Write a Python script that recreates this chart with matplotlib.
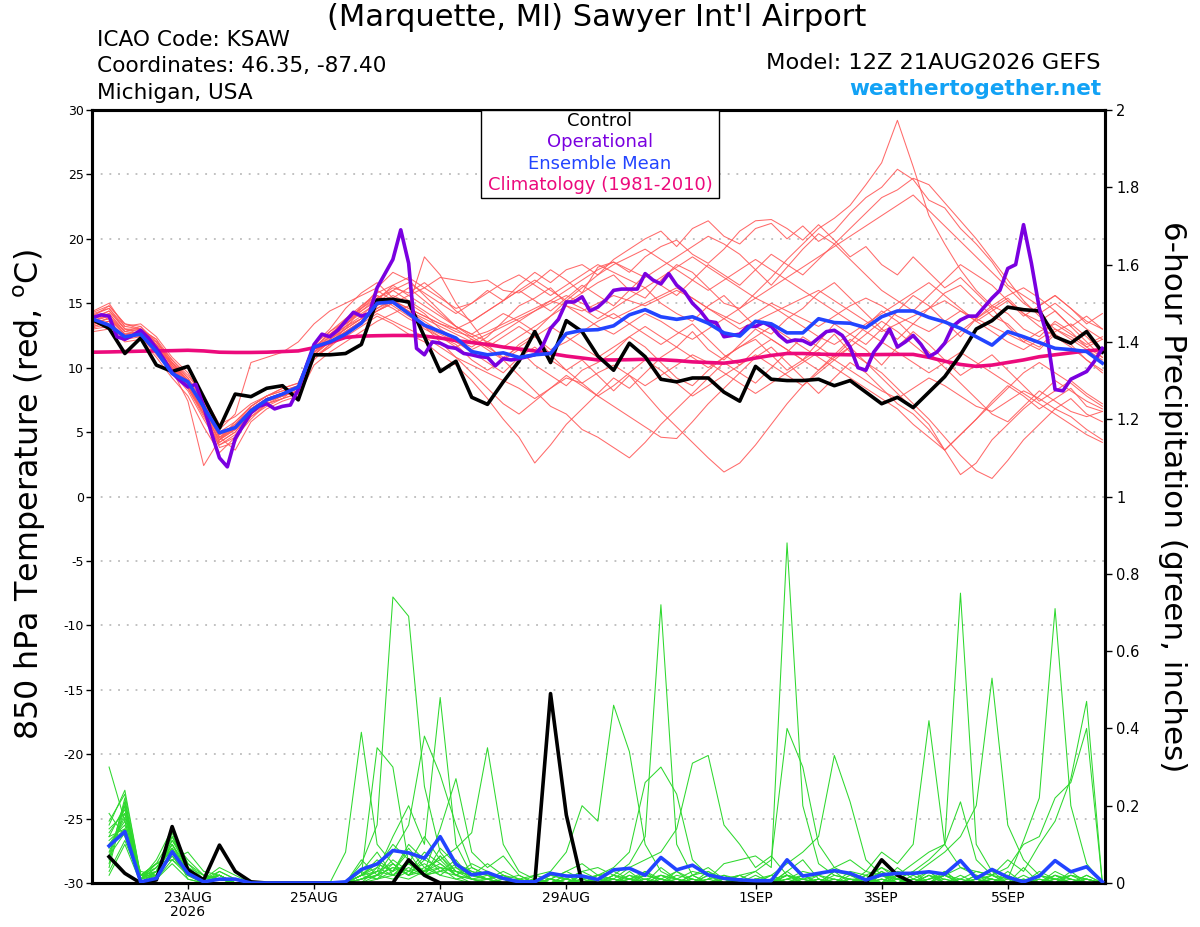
import numpy as np
import matplotlib
matplotlib.use("Agg")
import matplotlib.pyplot as plt
from matplotlib.patches import Rectangle
from datetime import datetime

plt.rcParams['font.family'] = ['DejaVu Sans']

# ---------------- data ----------------
run_start = datetime(2026, 8, 21, 12)
step_hours = 6          # ensemble / control / climatology spacing
op_step_hours = 3       # operational spacing

tick_dates = [datetime(2026, 8, 23), datetime(2026, 8, 25), datetime(2026, 8, 27),
              datetime(2026, 8, 29), datetime(2026, 9, 1), datetime(2026, 9, 3),
              datetime(2026, 9, 5)]
tick_labels = ['23AUG\n2026', '25AUG', '27AUG', '29AUG', '1SEP', '3SEP', '5SEP']

temp_ticks = [-30, -25, -20, -15, -10, -5, 0, 5, 10, 15, 20, 25, 30]
precip_ticks = [0, 0.2, 0.4, 0.6, 0.8, 1.0, 1.2, 1.4, 1.6, 1.8, 2.0]
precip_tick_labels = ['0', '0.2', '0.4', '0.6', '0.8', '1', '1.2', '1.4', '1.6', '1.8', '2']

control_temp = [13.7, 13.05, 11.1, 12.3, 10.2, 9.7, 10.1, 7.7, 5.3, 7.95, 7.75, 8.4, 8.6, 7.5, 11.0, 11.0, 11.1,
                11.8, 15.25, 15.3, 15.1, 12.4, 9.7, 10.5, 7.7, 7.15, 8.9, 10.5, 12.8, 10.4, 13.65, 12.8, 10.9,
                9.8, 11.9, 10.85, 9.1, 8.9, 9.2, 9.2, 8.1, 7.4, 10.1, 9.1, 9.0, 9.0, 9.1, 8.6, 9.0,
                8.1, 7.2, 7.7, 6.9, 8.1, 9.3, 11.0, 13.0, 13.65, 14.7, 14.5, 14.4, 12.4, 11.9, 12.8, 11.2]

mean_temp = [13.75, 13.3, 12.4, 12.6, 11.25, 9.55, 8.9, 6.95, 4.95, 5.35, 6.65, 7.5, 7.95, 8.5, 11.6, 12.0, 12.6,
             13.45, 15.0, 15.1, 14.2, 13.3, 12.8, 12.3, 11.25, 11.0, 11.15, 10.8, 11.0, 11.1, 12.65, 12.9, 12.95,
             13.25, 14.1, 14.5, 13.95, 13.75, 13.95, 13.45, 12.7, 12.45, 13.6, 13.4, 12.7, 12.7, 13.8, 13.5, 13.45,
             13.1, 13.95, 14.4, 14.4, 13.9, 13.55, 13.05, 12.4, 11.75, 12.8, 12.4, 11.95, 11.5, 11.4, 11.25, 10.35]

climatology_temp = [11.2, 11.22, 11.25, 11.28, 11.3, 11.32, 11.35, 11.3, 11.2, 11.18, 11.18, 11.2, 11.25, 11.3, 11.55, 11.95, 12.35,
                    12.45, 12.48, 12.5, 12.5, 12.45, 12.3, 12.1, 11.95, 11.8, 11.6, 11.45, 11.3, 11.1, 10.9, 10.75, 10.6,
                    10.6, 10.62, 10.65, 10.62, 10.55, 10.45, 10.4, 10.35, 10.5, 10.75, 10.95, 11.1, 11.1, 11.05, 11.02, 11.0,
                    11.0, 11.02, 11.03, 11.03, 10.8, 10.5, 10.25, 10.1, 10.2, 10.4, 10.6, 10.85, 11.0, 11.15, 11.3, 11.4]

operational_temp = [13.9, 14.1, 14.0, 12.4, 12.2, 12.5, 12.9, 12.3, 11.5, 10.6, 9.6, 9.0, 8.5, 8.7, 7.0, 4.9, 3.0, 2.3,
                    4.5, 5.5, 6.5, 7.0, 7.2, 6.8, 7.0, 7.1, 8.3, 10.1, 11.8, 12.6, 12.4, 12.9, 13.6,
                    14.3, 14.0, 14.2, 16.2, 17.3, 18.4, 20.7, 18.1, 11.5, 11.0, 12.0, 11.9, 11.6, 11.5, 11.1, 11.0,
                    10.85, 10.8, 10.15, 10.7, 10.6, 10.7, 10.85, 11.0, 11.7, 13.05, 13.75, 15.1, 15.1, 15.5, 14.4, 14.7,
                    15.25, 16.0, 16.1, 16.1, 16.1, 17.3, 16.8, 16.5, 17.3, 16.4, 15.9, 15.0, 14.4, 13.6, 13.5, 12.4,
                    12.5, 12.6, 13.2, 13.2, 13.5, 13.2, 12.5, 12.0, 12.15, 12.1, 11.8, 12.3, 12.8, 12.9, 12.5, 11.6, 10.0,
                    9.8, 11.2, 12.0, 13.0, 11.6, 12.0, 12.5, 11.8, 10.85, 11.2, 11.9, 13.2, 13.7, 14.0, 14.0, 14.7,
                    15.4, 16.0, 17.7, 18.0, 21.1, 18.1, 14.6, 12.4, 8.3, 8.2, 9.1, 9.4, 9.7, 10.5, 11.5]

member_temps = [
    [13.5, 13.8, 12.6, 12.8, 11.6, 10.2, 9.0, 7.0, 4.8, 5.6, 6.8, 7.6, 8.0, 8.4, 11.2, 12.0, 12.8,
     13.6, 14.8, 15.6, 15.0, 14.2, 13.0, 12.2, 11.6, 12.4, 13.6, 14.8, 15.4, 16.2, 15.0, 15.8, 16.6,
     17.2, 16.0, 15.4, 16.8, 18.0, 17.4, 16.2, 15.0, 14.6, 15.8, 17.0, 18.4, 19.6, 20.8, 21.6, 22.6,
     24.2, 25.9, 29.2, 25.6, 21.8, 19.6, 17.6, 16.0, 14.8, 14.2, 13.0, 12.4, 13.6, 12.8, 11.6, 12.2],
    [14.2, 14.6, 13.0, 12.6, 12.0, 10.6, 9.4, 7.8, 5.6, 6.2, 7.2, 7.8, 8.2, 8.6, 10.8, 11.6, 13.2,
     14.0, 15.2, 16.4, 17.0, 16.2, 15.4, 14.6, 15.0, 16.0, 15.2, 16.4, 17.4, 16.6, 17.6, 18.0, 17.2,
     18.4, 19.2, 20.0, 20.6, 19.4, 20.8, 21.4, 20.2, 19.6, 20.8, 21.2, 20.0, 21.0, 19.8, 20.6, 22.0,
     23.2, 24.0, 25.4, 24.6, 23.0, 22.4, 20.8, 19.6, 18.2, 16.4, 15.6, 14.8, 15.6, 14.6, 13.4, 14.2],
    [13.0, 13.2, 12.2, 12.4, 11.0, 9.6, 8.2, 6.0, 4.0, 4.8, 6.2, 7.0, 7.6, 8.0, 11.6, 12.4, 13.8,
     14.8, 15.8, 16.4, 15.6, 16.2, 17.0, 16.8, 16.6, 16.8, 16.0, 15.8, 16.6, 17.6, 16.8, 15.8, 17.8,
     18.2, 17.4, 18.6, 19.4, 19.9, 18.8, 18.1, 19.2, 20.6, 21.4, 21.5, 20.8, 19.9, 21.1, 19.9, 18.6,
     19.4, 18.0, 17.2, 18.6, 17.4, 16.2, 17.0, 15.8, 14.6, 15.4, 14.2, 13.6, 14.4, 13.2, 14.0, 13.0],
    [14.0, 14.8, 13.4, 13.0, 12.2, 10.0, 8.6, 6.6, 3.8, 4.2, 6.6, 7.4, 7.8, 8.2, 10.6, 11.8, 12.4,
     13.2, 14.0, 13.4, 12.6, 12.0, 11.0, 10.2, 9.0, 7.6, 6.0, 4.6, 2.6, 4.0, 5.6, 6.8, 8.0,
     9.2, 8.4, 9.6, 10.8, 11.6, 12.8, 11.4, 10.6, 11.8, 13.0, 12.2, 11.4, 10.6, 12.0, 13.4, 12.6,
     11.8, 13.0, 14.4, 15.6, 14.8, 13.6, 12.4, 13.8, 14.6, 13.2, 12.0, 11.4, 12.6, 11.8, 10.6, 9.8],
    [13.6, 14.0, 12.8, 13.2, 11.8, 9.8, 7.4, 2.4, 4.4, 5.8, 7.0, 7.8, 8.4, 8.8, 11.8, 13.0, 14.6,
     15.8, 16.6, 15.4, 14.2, 13.0, 12.4, 11.8, 10.6, 9.8, 10.6, 11.4, 10.2, 9.4, 8.6, 9.8, 10.4,
     11.2, 12.4, 11.6, 10.4, 9.2, 8.6, 9.8, 10.8, 11.6, 12.2, 11.0, 9.8, 10.6, 11.4, 12.6, 11.2,
     10.4, 9.6, 8.4, 7.2, 6.0, 4.6, 3.2, 2.0, 1.4, 2.8, 4.4, 5.6, 6.8, 7.6, 6.4, 5.8],
    [13.2, 13.6, 12.4, 12.8, 11.4, 10.4, 8.8, 7.2, 5.2, 6.4, 10.4, 10.8, 11.2, 12.0, 13.4, 14.4, 15.0,
     15.6, 16.2, 17.4, 16.8, 15.6, 14.4, 13.2, 12.6, 13.4, 14.2, 13.6, 12.8, 14.0, 15.2, 14.6, 13.8,
     14.6, 15.4, 16.2, 15.0, 14.2, 13.6, 14.8, 15.6, 14.4, 13.2, 12.6, 13.8, 14.6, 15.8, 16.6, 15.4,
     14.2, 13.0, 12.2, 13.4, 14.6, 15.8, 16.4, 15.2, 14.0, 13.4, 12.2, 11.6, 12.8, 13.4, 12.4, 11.2],
    [14.4, 15.0, 13.2, 13.4, 12.4, 10.8, 9.6, 7.6, 4.6, 3.6, 5.8, 6.8, 7.4, 7.8, 10.2, 11.2, 12.0,
     12.8, 13.6, 14.2, 14.8, 18.6, 17.2, 15.0, 13.4, 11.8, 10.6, 9.4, 8.2, 7.0, 6.4, 5.2, 4.6,
     3.8, 3.0, 4.2, 5.6, 6.8, 8.0, 9.2, 10.4, 9.6, 8.8, 10.0, 11.2, 12.4, 11.6, 10.8, 12.0,
     13.2, 14.4, 13.6, 12.4, 11.2, 10.0, 8.8, 7.6, 6.4, 5.8, 7.0, 8.2, 7.4, 6.6, 6.2, 6.6],
    [12.8, 13.0, 12.0, 12.2, 10.8, 9.2, 7.8, 5.4, 3.4, 4.6, 6.0, 7.2, 7.6, 8.6, 11.4, 12.8, 13.6,
     14.4, 15.2, 14.6, 13.8, 13.2, 12.4, 11.6, 12.2, 11.4, 10.6, 11.8, 12.6, 11.0, 9.8, 10.6, 9.4,
     8.2, 9.4, 8.0, 6.6, 5.4, 4.2, 3.0, 1.9, 2.6, 4.0, 5.6, 7.2, 8.6, 9.8, 11.0, 12.2,
     11.4, 10.2, 11.6, 12.8, 11.8, 10.6, 9.4, 10.2, 11.0, 9.8, 8.6, 7.4, 8.2, 9.0, 8.0, 7.2],
    [13.8, 14.2, 12.8, 12.6, 11.8, 10.4, 9.2, 7.4, 5.0, 5.4, 6.4, 7.4, 7.8, 8.2, 11.0, 12.2, 13.0,
     14.6, 16.0, 15.2, 14.4, 13.6, 12.8, 12.0, 11.2, 10.4, 9.6, 10.8, 11.6, 10.6, 9.8, 8.8, 7.8,
     7.0, 6.2, 5.4, 4.6, 4.5, 5.8, 7.2, 8.4, 9.6, 10.8, 11.6, 10.4, 9.2, 8.0, 9.2, 10.4,
     9.6, 8.4, 7.2, 6.4, 5.2, 3.6, 4.8, 6.0, 7.4, 8.6, 7.8, 6.8, 7.6, 8.4, 7.0, 6.6],
    [13.4, 13.6, 12.4, 12.6, 11.2, 10.0, 8.4, 6.2, 4.2, 5.0, 6.6, 7.6, 8.0, 8.6, 11.6, 12.6, 13.4,
     14.2, 15.0, 16.0, 15.2, 14.4, 13.6, 13.0, 12.2, 11.6, 12.4, 13.2, 12.4, 11.4, 12.0, 12.8, 13.6,
     14.2, 13.4, 12.6, 11.8, 12.6, 13.4, 12.2, 11.0, 10.2, 11.4, 12.2, 11.4, 10.6, 9.8, 10.8, 11.6,
     10.4, 9.2, 8.0, 6.8, 5.6, 3.6, 1.7, 2.6, 4.4, 5.6, 6.8, 7.8, 9.0, 8.2, 7.4, 6.8],
    [13.9, 14.4, 13.0, 13.0, 12.0, 10.4, 9.0, 6.8, 4.6, 5.2, 6.8, 7.6, 8.0, 8.4, 11.0, 12.0, 13.0,
     13.8, 14.6, 15.2, 14.6, 14.0, 13.4, 12.8, 12.4, 12.8, 13.4, 14.0, 14.6, 15.2, 14.8, 14.4, 15.0,
     15.6, 15.2, 14.8, 15.4, 16.0, 15.4, 14.6, 14.0, 13.4, 14.2, 15.0, 14.4, 13.8, 13.2, 14.0, 14.8,
     15.4, 14.8, 14.0, 13.4, 12.8, 13.6, 14.4, 13.8, 13.2, 12.6, 12.0, 12.8, 13.4, 12.6, 11.8, 12.4],
    [13.3, 13.9, 12.6, 12.6, 11.6, 10.2, 8.6, 6.4, 4.4, 5.4, 6.8, 7.4, 7.8, 8.2, 11.2, 12.4, 13.4,
     14.4, 15.4, 16.2, 15.8, 16.6, 15.6, 14.4, 13.6, 14.4, 15.2, 16.0, 15.2, 14.4, 15.4, 16.4, 15.6,
     14.8, 16.0, 17.2, 16.4, 15.6, 16.8, 18.0, 17.2, 16.4, 17.6, 18.8, 18.0, 17.2, 18.4, 19.6, 20.8,
     22.0, 23.2, 23.8, 24.7, 24.2, 22.8, 21.4, 20.0, 18.4, 16.8, 15.2, 14.0, 13.0, 12.2, 11.4, 10.6],
    [13.7, 14.0, 12.6, 12.8, 11.4, 10.0, 8.8, 6.8, 4.2, 5.0, 6.4, 7.2, 7.6, 8.0, 10.8, 11.6, 12.6,
     13.4, 14.2, 13.6, 13.0, 12.4, 11.6, 10.8, 10.2, 9.6, 9.0, 8.4, 7.6, 8.4, 9.2, 8.8, 9.6,
     10.2, 9.4, 8.6, 9.4, 10.2, 11.0, 10.4, 9.6, 8.8, 8.0, 8.8, 9.6, 10.4, 11.2, 10.6, 9.8,
     9.0, 8.2, 7.6, 8.4, 9.2, 8.6, 7.8, 7.0, 6.6, 7.4, 8.2, 7.6, 6.8, 6.2, 5.2, 4.4],
    [14.1, 14.6, 13.2, 13.0, 12.2, 10.6, 9.2, 7.2, 5.0, 5.8, 7.0, 7.8, 8.2, 8.6, 11.4, 12.2, 13.2,
     14.8, 15.6, 14.8, 14.0, 13.2, 12.6, 12.0, 11.4, 12.0, 12.8, 13.6, 14.4, 15.2, 16.0, 16.8, 17.6,
     18.2, 17.6, 17.0, 17.8, 18.6, 19.4, 20.2, 19.6, 18.8, 17.6, 16.4, 17.8, 19.2, 20.4, 19.6, 18.4,
     17.2, 16.0, 15.2, 14.4, 15.6, 16.8, 18.0, 17.2, 16.4, 15.2, 14.0, 14.8, 15.6, 14.6, 13.6, 13.0],
    [13.5, 13.8, 12.6, 12.4, 11.2, 9.8, 8.4, 6.4, 4.0, 4.6, 6.2, 7.2, 7.8, 8.2, 11.0, 12.0, 12.8,
     13.6, 14.4, 15.0, 14.2, 13.2, 12.0, 10.8, 9.6, 8.4, 7.2, 6.4, 7.4, 8.4, 9.4, 8.6, 7.8,
     8.6, 9.6, 10.6, 9.8, 8.8, 7.8, 8.6, 9.4, 10.2, 11.0, 10.2, 9.4, 8.6, 9.6, 10.6, 11.6,
     12.6, 13.6, 12.8, 11.8, 10.8, 11.8, 12.8, 13.8, 14.8, 15.6, 16.2, 15.4, 14.4, 13.2, 12.0, 10.8],
    [13.6, 14.2, 12.8, 13.0, 11.8, 10.2, 8.8, 6.8, 4.6, 5.6, 7.0, 7.8, 8.4, 8.8, 11.6, 12.6, 13.6,
     14.6, 15.4, 16.0, 16.6, 15.8, 15.0, 14.2, 15.0, 15.8, 16.6, 17.2, 16.4, 15.6, 16.4, 17.2, 18.0,
     17.4, 16.8, 16.2, 17.0, 17.8, 18.6, 17.8, 17.0, 16.2, 15.4, 16.2, 17.0, 17.8, 18.6, 19.4, 20.2,
     21.0, 21.8, 22.6, 23.4, 22.2, 21.0, 19.8, 18.6, 17.4, 16.2, 15.0, 14.2, 15.0, 14.0, 13.0, 12.2],
    [14.3, 14.8, 13.4, 13.2, 12.0, 10.4, 9.0, 7.0, 4.8, 5.2, 6.6, 7.6, 8.0, 8.4, 11.2, 12.2, 13.0,
     13.8, 14.6, 15.4, 16.2, 15.2, 14.2, 13.2, 12.4, 11.6, 10.8, 11.6, 12.4, 13.2, 12.4, 11.6, 10.8,
     11.6, 12.4, 13.2, 12.4, 11.6, 10.8, 10.0, 10.8, 11.6, 12.4, 13.2, 12.4, 11.6, 10.8, 10.0, 9.2,
     8.4, 7.6, 6.8, 5.6, 4.6, 3.6, 4.8, 6.0, 7.2, 8.4, 9.6, 10.4, 9.6, 8.8, 7.8, 7.0],
    [13.1, 13.4, 12.2, 12.6, 11.2, 9.8, 8.6, 6.6, 4.4, 5.2, 6.6, 7.4, 7.8, 8.4, 11.4, 12.4, 13.2,
     13.8, 14.4, 15.0, 15.6, 14.8, 14.0, 13.2, 12.6, 12.0, 11.6, 12.4, 13.2, 14.0, 14.8, 14.0, 13.2,
     12.6, 13.4, 14.2, 13.6, 12.8, 12.2, 13.0, 13.8, 14.6, 15.4, 14.8, 14.0, 13.2, 12.4, 11.8, 12.6,
     13.4, 14.2, 15.0, 15.8, 16.6, 15.6, 14.6, 13.6, 14.4, 15.2, 14.2, 13.2, 12.4, 11.6, 10.6, 9.6],
    [13.8, 14.4, 13.0, 12.8, 11.8, 10.2, 9.0, 7.0, 4.6, 5.4, 6.8, 7.6, 8.0, 8.4, 10.8, 11.8, 12.8,
     13.6, 14.4, 15.2, 14.6, 14.0, 13.4, 13.0, 13.6, 14.4, 15.2, 16.0, 16.8, 16.0, 15.2, 16.2, 17.2,
     18.0, 18.6, 19.2, 18.4, 17.6, 16.8, 16.0, 16.8, 17.6, 18.4, 17.6, 16.8, 16.0, 15.2, 14.4, 13.6,
     12.8, 12.0, 11.2, 10.4, 9.6, 10.4, 11.2, 10.4, 9.6, 8.8, 8.0, 7.2, 6.4, 5.6, 4.8, 4.2],
    [13.2, 13.6, 12.4, 12.8, 11.4, 10.0, 8.6, 6.4, 4.4, 5.2, 6.8, 7.6, 8.0, 8.6, 11.8, 12.8, 13.8,
     14.6, 15.6, 15.0, 14.4, 13.8, 13.2, 12.6, 12.0, 12.6, 13.2, 13.8, 14.4, 15.0, 15.6, 15.0, 14.4,
     13.8, 14.4, 15.0, 15.6, 16.2, 15.4, 14.6, 13.8, 13.0, 13.6, 14.2, 14.8, 15.4, 16.0, 15.2, 14.4,
     13.6, 12.8, 13.4, 14.0, 14.6, 15.2, 14.4, 13.6, 12.8, 12.0, 11.4, 12.2, 13.0, 12.4, 11.6, 10.8],
]

# 6-hour precipitation (inches), valid at 6h, 12h, ... 384h
control_precip = [0.068, 0.025, 0.0, 0.008, 0.146, 0.034, 0.008, 0.098, 0.03, 0.003,
                  0, 0, 0, 0, 0, 0, 0, 0, 0,
                  0.06, 0.02,
                  0, 0, 0, 0, 0, 0, 0,
                  0.49, 0.176,
                  0, 0, 0, 0, 0, 0, 0, 0, 0, 0, 0, 0, 0, 0, 0, 0, 0, 0, 0,
                  0.06, 0.02,
                  0, 0, 0, 0, 0, 0, 0, 0, 0, 0, 0, 0, 0]

mean_precip = [0.096, 0.133, 0.003, 0.012, 0.081, 0.025, 0.003, 0.01,
               0.01, 0.0, 0, 0, 0, 0, 0, 0.003,
               0.035, 0.049, 0.084, 0.078, 0.064, 0.12, 0.049, 0.021,
               0.027, 0.012, 0.003, 0.003, 0.025, 0.018, 0.018, 0.009,
               0.034, 0.038, 0.02, 0.066, 0.034, 0.046, 0.021, 0.012,
               0.008, 0.006, 0.006, 0.06, 0.018, 0.025, 0.032, 0.025,
               0.008, 0.021, 0.025, 0.025, 0.029, 0.023, 0.058, 0.012,
               0.035, 0.015, 0.003, 0.018, 0.058, 0.029, 0.042, 0.003]

member_precips = [
    [0.12, 0.20, 0.01, 0.03, 0.10, 0.02, 0.0, 0.01, 0, 0, 0, 0, 0, 0, 0, 0,
     0.05, 0.15, 0.74, 0.69, 0.25, 0.08, 0.03, 0.01, 0, 0.01, 0, 0, 0.02, 0.01, 0, 0,
     0, 0.01, 0.03, 0, 0, 0.01, 0, 0, 0, 0, 0.01, 0.02, 0, 0, 0.01, 0,
     0, 0.02, 0.01, 0, 0, 0.03, 0, 0, 0.01, 0, 0, 0.02, 0.01, 0, 0, 0],
    [0.30, 0.16, 0.02, 0.05, 0.08, 0.03, 0.01, 0.02, 0, 0, 0, 0, 0, 0, 0, 0.08,
     0.39, 0.10, 0.05, 0.02, 0.06, 0.12, 0.04, 0.02, 0.01, 0, 0, 0, 0.01, 0.03, 0.01, 0,
     0.02, 0, 0, 0.04, 0.01, 0, 0, 0.02, 0.01, 0, 0, 0.03, 0.06, 0.01, 0, 0,
     0.02, 0, 0.04, 0.01, 0, 0, 0.01, 0, 0, 0.02, 0, 0, 0.03, 0.01, 0, 0],
    [0.06, 0.22, 0.0, 0.02, 0.12, 0.05, 0.01, 0.03, 0.01, 0, 0, 0, 0, 0, 0, 0,
     0.02, 0.35, 0.30, 0.05, 0.02, 0.03, 0.06, 0.01, 0.02, 0, 0, 0.01, 0, 0, 0, 0.01,
     0, 0, 0.02, 0.01, 0, 0, 0.03, 0, 0, 0.01, 0, 0, 0.02, 0, 0, 0.01,
     0, 0.01, 0, 0.02, 0, 0, 0, 0.01, 0, 0, 0.04, 0, 0, 0, 0.02, 0],
    [0.15, 0.24, 0.02, 0.01, 0.06, 0.02, 0, 0.01, 0, 0, 0, 0, 0, 0, 0, 0,
     0.01, 0.03, 0.12, 0.20, 0.10, 0.48, 0.10, 0.02, 0.01, 0.02, 0, 0, 0, 0.01, 0.03, 0.01,
     0, 0.02, 0, 0, 0.01, 0, 0, 0, 0.02, 0, 0, 0.01, 0, 0.02, 0, 0,
     0, 0, 0.01, 0, 0.03, 0, 0, 0.02, 0.01, 0, 0, 0, 0, 0.02, 0, 0],
    [0.08, 0.18, 0.01, 0.04, 0.09, 0.01, 0, 0, 0, 0, 0, 0, 0, 0, 0, 0,
     0.06, 0.02, 0.08, 0.15, 0.38, 0.28, 0.15, 0.04, 0.02, 0.01, 0, 0.01, 0, 0, 0.02, 0,
     0.01, 0, 0, 0, 0.02, 0.01, 0, 0, 0, 0, 0.01, 0, 0, 0, 0.03, 0,
     0, 0.01, 0, 0, 0.01, 0.02, 0, 0, 0, 0.03, 0, 0, 0.01, 0, 0, 0],
    [0.10, 0.14, 0.03, 0.02, 0.07, 0.02, 0.01, 0.02, 0, 0, 0, 0, 0, 0, 0, 0,
     0.03, 0.08, 0.02, 0.05, 0.12, 0.06, 0.09, 0.13, 0.35, 0.10, 0.03, 0.01, 0, 0.01, 0, 0.02,
     0, 0.03, 0, 0.01, 0, 0, 0.01, 0, 0, 0, 0, 0.02, 0.01, 0, 0, 0.01,
     0.01, 0, 0, 0, 0.02, 0, 0.01, 0, 0, 0, 0.01, 0, 0, 0.02, 0.01, 0],
    [0.04, 0.20, 0.0, 0.03, 0.11, 0.04, 0.02, 0.01, 0, 0, 0, 0, 0, 0, 0, 0,
     0.0, 0.04, 0.10, 0.06, 0.03, 0.14, 0.27, 0.08, 0.04, 0.07, 0.02, 0, 0.01, 0, 0, 0,
     0.02, 0.01, 0, 0, 0, 0.02, 0, 0.01, 0, 0, 0.02, 0, 0, 0.01, 0, 0,
     0, 0.03, 0, 0, 0, 0.01, 0, 0.02, 0, 0, 0, 0.01, 0, 0, 0.01, 0],
    [0.18, 0.12, 0.01, 0.05, 0.06, 0.03, 0, 0.02, 0, 0, 0, 0, 0, 0, 0, 0,
     0.02, 0.05, 0.03, 0.09, 0.04, 0.02, 0.05, 0.03, 0.01, 0.03, 0.01, 0.02, 0.03, 0.08, 0.20, 0.16,
     0.46, 0.34, 0.10, 0.03, 0.01, 0, 0.02, 0.01, 0, 0.01, 0, 0, 0.02, 0, 0, 0,
     0.01, 0, 0, 0.01, 0, 0, 0.02, 0, 0.01, 0, 0, 0, 0.01, 0, 0, 0],
    [0.09, 0.17, 0.02, 0.02, 0.13, 0.02, 0.01, 0.02, 0, 0, 0, 0, 0, 0, 0, 0,
     0.01, 0.02, 0.06, 0.03, 0.08, 0.05, 0.02, 0.01, 0, 0, 0.01, 0, 0.02, 0.01, 0.03, 0.04,
     0.02, 0.05, 0.12, 0.72, 0.10, 0.02, 0.03, 0.01, 0, 0.01, 0, 0.03, 0, 0.01, 0, 0,
     0.02, 0, 0.01, 0, 0, 0.02, 0, 0, 0.01, 0, 0, 0.02, 0, 0, 0, 0],
    [0.02, 0.10, 0.0, 0.01, 0.05, 0.01, 0, 0, 0, 0, 0, 0, 0, 0, 0, 0,
     0.0, 0.02, 0.04, 0.02, 0.07, 0.03, 0.02, 0.05, 0.03, 0.01, 0, 0.02, 0.01, 0.03, 0.05, 0.02,
     0.01, 0.04, 0.06, 0.08, 0.14, 0.31, 0.33, 0.15, 0.10, 0.04, 0.07, 0.02, 0, 0.01, 0, 0.02,
     0, 0.01, 0, 0, 0.02, 0, 0, 0.01, 0, 0, 0.02, 0, 0, 0.01, 0, 0],
    [0.13, 0.19, 0.01, 0.06, 0.14, 0.05, 0.02, 0.01, 0, 0, 0, 0, 0, 0, 0, 0,
     0.03, 0.01, 0.05, 0.02, 0.04, 0.06, 0.02, 0.0, 0.01, 0, 0, 0, 0.01, 0, 0.02, 0.01,
     0, 0.01, 0.02, 0.01, 0.03, 0, 0.01, 0.05, 0.06, 0.07, 0.04, 0.88, 0.20, 0.05, 0.02, 0.01,
     0, 0.02, 0, 0.01, 0.03, 0, 0, 0.01, 0, 0.01, 0, 0, 0.02, 0, 0.01, 0],
    [0.05, 0.21, 0.02, 0.04, 0.09, 0.03, 0.01, 0.02, 0, 0, 0, 0, 0, 0, 0, 0,
     0.02, 0.06, 0.03, 0.08, 0.02, 0.09, 0.05, 0.03, 0.02, 0.01, 0, 0.01, 0, 0.02, 0, 0.01,
     0.01, 0, 0.03, 0.01, 0, 0.02, 0.04, 0.01, 0.02, 0.03, 0.06, 0.40, 0.30, 0.10, 0.04, 0.02,
     0.01, 0.03, 0.01, 0, 0.02, 0.01, 0, 0, 0.02, 0, 0, 0.01, 0, 0.03, 0, 0],
    [0.11, 0.15, 0.01, 0.02, 0.07, 0.02, 0, 0.03, 0.01, 0, 0, 0, 0, 0, 0, 0,
     0.01, 0.03, 0.02, 0.04, 0.02, 0.07, 0.03, 0.02, 0.05, 0.02, 0.01, 0, 0, 0, 0.01, 0.02,
     0.03, 0.01, 0, 0.02, 0.01, 0.03, 0.02, 0, 0.01, 0, 0.02, 0.05, 0.08, 0.12, 0.33, 0.21,
     0.06, 0.02, 0.01, 0, 0.01, 0.02, 0, 0.01, 0, 0.02, 0, 0, 0.01, 0, 0, 0],
    [0.07, 0.13, 0.0, 0.03, 0.10, 0.04, 0.01, 0.01, 0, 0, 0, 0, 0, 0, 0, 0,
     0.0, 0.01, 0.02, 0.06, 0.03, 0.04, 0.01, 0.02, 0.01, 0, 0, 0, 0.01, 0, 0, 0.02,
     0.01, 0, 0.01, 0.02, 0, 0.01, 0, 0.01, 0, 0.02, 0, 0.01, 0.03, 0.02, 0.04, 0.06,
     0.03, 0.08, 0.05, 0.10, 0.42, 0.10, 0.04, 0.02, 0.01, 0, 0, 0.03, 0.01, 0, 0.02, 0],
    [0.16, 0.23, 0.02, 0.05, 0.12, 0.03, 0.01, 0.02, 0, 0, 0, 0, 0, 0, 0, 0,
     0.02, 0.01, 0.03, 0.05, 0.02, 0.03, 0.04, 0.01, 0.01, 0.02, 0, 0, 0, 0.01, 0, 0,
     0.02, 0.01, 0, 0, 0.01, 0, 0.02, 0, 0.01, 0, 0, 0.02, 0, 0.01, 0, 0.03,
     0.02, 0.04, 0.01, 0.03, 0.06, 0.10, 0.75, 0.10, 0.03, 0, 0.01, 0, 0.02, 0.01, 0, 0],
    [0.03, 0.11, 0.01, 0.02, 0.08, 0.02, 0, 0.01, 0, 0, 0, 0, 0, 0, 0, 0,
     0.01, 0.02, 0.01, 0.03, 0.05, 0.02, 0.01, 0.0, 0, 0.01, 0, 0, 0, 0.02, 0, 0.01,
     0, 0.02, 0.01, 0, 0.03, 0.01, 0, 0, 0.01, 0.03, 0, 0, 0.01, 0.02, 0.01, 0,
     0.02, 0, 0.03, 0.02, 0.05, 0.08, 0.12, 0.20, 0.53, 0.15, 0.06, 0.02, 0.01, 0.02, 0.01, 0],
    [0.14, 0.18, 0.02, 0.03, 0.11, 0.06, 0.02, 0.01, 0, 0, 0, 0, 0, 0, 0, 0,
     0.02, 0.04, 0.02, 0.01, 0.03, 0.05, 0.02, 0.01, 0, 0, 0.01, 0, 0, 0, 0.02, 0,
     0.01, 0, 0.02, 0.01, 0, 0, 0.01, 0.02, 0, 0.01, 0.02, 0, 0.01, 0, 0.02, 0.01,
     0, 0.02, 0.01, 0.03, 0, 0.02, 0.04, 0.03, 0.02, 0.01, 0.11, 0.22, 0.71, 0.20, 0.05, 0],
    [0.10, 0.16, 0.01, 0.04, 0.10, 0.03, 0.01, 0.04, 0.02, 0, 0, 0, 0, 0, 0, 0,
     0.01, 0.02, 0.04, 0.03, 0.02, 0.04, 0.03, 0.02, 0.01, 0, 0, 0, 0.01, 0, 0.01, 0,
     0, 0.01, 0, 0.02, 0.01, 0, 0, 0.01, 0.02, 0, 0.01, 0, 0, 0.01, 0, 0,
     0.01, 0, 0.02, 0, 0.01, 0.03, 0, 0.01, 0.02, 0.06, 0.03, 0.10, 0.16, 0.27, 0.47, 0],
    [0.07, 0.21, 0.01, 0.03, 0.09, 0.02, 0, 0.02, 0, 0, 0, 0, 0, 0, 0, 0,
     0.02, 0.03, 0.05, 0.02, 0.03, 0.07, 0.02, 0.04, 0.02, 0.01, 0.02, 0, 0, 0.01, 0, 0,
     0.01, 0, 0.01, 0, 0, 0.02, 0, 0, 0, 0.01, 0, 0.01, 0.02, 0, 0.01, 0,
     0.03, 0.02, 0, 0.01, 0, 0.02, 0.01, 0.03, 0.02, 0.04, 0.10, 0.12, 0.22, 0.26, 0.40, 0],
    [0.12, 0.14, 0.02, 0.05, 0.06, 0.08, 0.03, 0.02, 0, 0, 0, 0, 0, 0, 0, 0,
     0.02, 0.05, 0.03, 0.10, 0.06, 0.04, 0.03, 0.02, 0.01, 0.02, 0, 0, 0.01, 0, 0.01, 0.02,
     0.04, 0.08, 0.26, 0.30, 0.23, 0.06, 0.02, 0.01, 0, 0.01, 0, 0.02, 0.01, 0, 0.03, 0.02,
     0.01, 0.04, 0.02, 0.05, 0.08, 0.10, 0.21, 0.06, 0.02, 0, 0.01, 0, 0.02, 0, 0.01, 0],
]

# ---------------- checks ----------------
n_t = len(control_temp)
assert len(mean_temp) == n_t and len(climatology_temp) == n_t, (len(mean_temp), len(climatology_temp))
assert len(operational_temp) == 2 * (n_t - 1) + 1, len(operational_temp)
for k, m in enumerate(member_temps):
    assert len(m) == n_t, (k, len(m))
assert len(control_precip) == n_t - 1, len(control_precip)
assert len(mean_precip) == n_t - 1, len(mean_precip)
for k, m in enumerate(member_precips):
    assert len(m) == n_t - 1, (k, len(m))

temp_hours = np.arange(n_t) * step_hours
op_hours = np.arange(len(operational_temp)) * op_step_hours
precip_hours = temp_hours[1:]
tick_hours = [(d - run_start).total_seconds() / 3600 for d in tick_dates]

# ---------------- colours ----------------
c_member_t = '#ff5a5a'
c_member_p = '#2ed82e'
c_control = 'black'
c_oper = '#7a00e0'
c_mean = '#2244ff'
c_clim = '#ec0a7c'

# ---------------- figure ----------------
fig = plt.figure(figsize=(12, 9.27), dpi=100)
ax = fig.add_axes([92 / 1200, 1 - 883 / 927, (1105 - 92) / 1200, (883 - 110) / 927])
ax2 = ax.twinx()

ax.set_xlim(-0.5, 385)
ax.set_ylim(-30, 30)
ax2.set_ylim(0, 2)

for y in temp_ticks[1:-1]:
    ax.axhline(y, color='#b0b0b0', lw=1.1, ls=(0, (1.2, 4.5)), zorder=0)

for m in member_temps:
    ax.plot(temp_hours, m, color=c_member_t, lw=0.75, alpha=0.9, zorder=1)
ax.plot(temp_hours, climatology_temp, color=c_clim, lw=2.6, zorder=3)
ax.plot(temp_hours, control_temp, color=c_control, lw=2.6, zorder=4)
ax.plot(op_hours, operational_temp, color=c_oper, lw=2.6, zorder=5)
ax.plot(temp_hours, mean_temp, color=c_mean, lw=2.6, zorder=6)

for m in member_precips:
    ax2.plot(precip_hours, m, color=c_member_p, lw=0.75, zorder=1)
ax2.plot(precip_hours, control_precip, color=c_control, lw=2.6, zorder=4)
ax2.plot(precip_hours, mean_precip, color=c_mean, lw=2.6, zorder=6)

# axes styling
for a in (ax, ax2):
    for s in a.spines.values():
        s.set_linewidth(2.2)
ax.set_yticks(temp_ticks)
ax.set_yticklabels([str(t) for t in temp_ticks])
ax.tick_params(axis='y', direction='out', length=4, width=1, labelsize=9, pad=2)
ax.set_xticks(tick_hours)
ax.set_xticklabels(tick_labels, linespacing=1.0)
ax.tick_params(axis='x', direction='out', length=4, width=1, labelsize=10, pad=2)
ax2.set_yticks(precip_ticks)
ax2.set_yticklabels(precip_tick_labels)
ax2.tick_params(axis='y', direction='out', length=5, width=1, labelsize=10.5, pad=3)

# legend box
fig.patches.append(Rectangle((481 / 1200, 1 - 198 / 927), 238 / 1200, 88 / 927,
                             transform=fig.transFigure, facecolor='white',
                             edgecolor='black', lw=1.0, zorder=10))
legend_items = [('Control', c_control), ('Operational', c_oper),
                ('Ensemble Mean', c_mean), ('Climatology (1981-2010)', c_clim)]
for k, (lab, col) in enumerate(legend_items):
    fig.text(600 / 1200, 1 - (121 + 21.3 * k) / 927, lab, color=col, fontsize=13.0,
             ha='center', va='center', zorder=11)

# header texts
fig.text(0.497, 1 - 18 / 927, "(Marquette, MI) Sawyer Int'l Airport", fontsize=22.0,
         ha='center', va='center')
fig.text(97 / 1200, 1 - 40 / 927, 'ICAO Code: KSAW', fontsize=15.6, ha='left', va='center')
fig.text(97 / 1200, 1 - 66 / 927, 'Coordinates: 46.35, -87.40', fontsize=15.6, ha='left', va='center')
fig.text(97 / 1200, 1 - 93 / 927, 'Michigan, USA', fontsize=15.6, ha='left', va='center')
fig.text(1101 / 1200, 1 - 63 / 927, 'Model: 12Z 21AUG2026 GEFS', fontsize=16.2, ha='right', va='center')
fig.text(1101 / 1200, 1 - 89 / 927, 'weathertogether.net', fontsize=15.6, fontweight='bold',
         color='#12a2f5', ha='right', va='center')

fig.text(30 / 1200, 1 - 495 / 927, '850 hPa Temperature (red, $^\\mathregular{o}$C)', fontsize=22.9,
         rotation=90, ha='center', va='center')
fig.text(1172 / 1200, 1 - 497 / 927, '6-hour Precipitation (green, inches)', fontsize=22.4,
         rotation=270, ha='center', va='center')

fig.savefig('out.png', dpi=100)
